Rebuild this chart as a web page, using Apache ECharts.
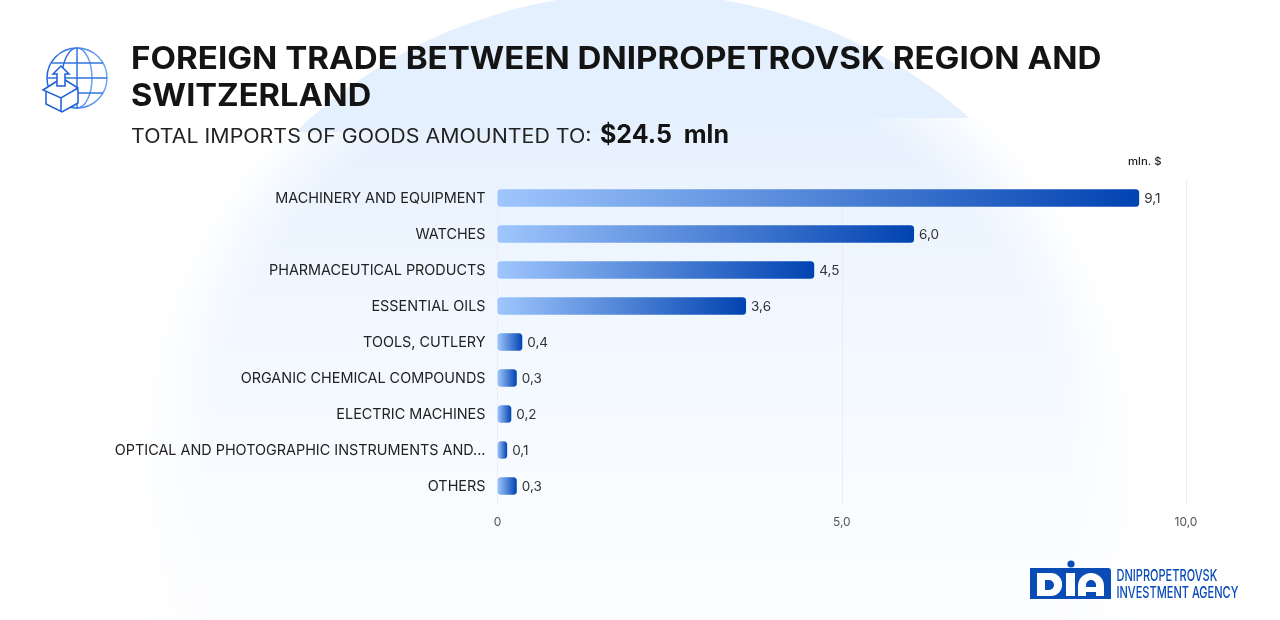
<!DOCTYPE html>
<html><head><meta charset="utf-8">
<style>html,body{margin:0;padding:0;background:#fff}#c{width:1280px;height:620px}</style>
<script src="https://cdn.jsdelivr.net/npm/echarts@6/dist/echarts.min.js"></script>
</head><body><div id="c"></div>
<script>
const categories = ["MACHINERY AND EQUIPMENT","WATCHES","PHARMACEUTICAL PRODUCTS","ESSENTIAL OILS","TOOLS, CUTLERY","ORGANIC CHEMICAL COMPOUNDS","ELECTRIC MACHINES","OPTICAL AND PHOTOGRAPHIC INSTRUMENTS AND...","OTHERS"];
const barLengths = [9.32,6.05,4.6,3.61,0.36,0.28,0.2,0.14,0.28];
const valueLabels = ["9,1","6,0","4,5","3,6","0,4","0,3","0,2","0,1","0,3"];
const tickLabels = {0:"0",5:"5,0",10:"10,0"};
const titleLines = ["FOREIGN TRADE BETWEEN DNIPROPETROVSK REGION AND","SWITZERLAND"];
const subtitle = "TOTAL IMPORTS OF GOODS AMOUNTED TO:";
const totalText = "$24.5  mln";
const unitText = "mln. $";
const logoLines = ["DNIPROPETROVSK","INVESTMENT AGENCY"];
const FONT = "Inter";
const chart = echarts.init(document.getElementById('c'),null,{renderer:'canvas'});
const G = echarts.graphic;
const iconGrad = new G.LinearGradient(0,0,1,0,[{offset:0,color:'#1c5fd6'},{offset:1,color:'#6ea8f6'}]);
const BLUE='#0a4cb6', ICON='#2f74e0';
const ln=(x1,y1,x2,y2,c)=>({type:'line',shape:{x1,y1,x2,y2},style:{stroke:c||ICON,lineWidth:1.5}});
const poly=(points,fill,c)=>({type:'polygon',shape:{points},style:{fill:fill||'none',stroke:c||ICON,lineWidth:1.5}});
const txt = (x,y,text,size,weight,color,extra,sx)=>({type:'text',x,y,scaleX:sx||1,style:Object.assign({text,fontFamily:FONT,fontSize:size,fontWeight:weight,fill:color,verticalAlign:'middle'},extra||{})});
const vFade = ()=>new G.LinearGradient(0,118,0,620,[{offset:0,color:'#e6f1fe'},{offset:0.3,color:'#eff6ff'},{offset:0.65,color:'#f7fbff'},{offset:1,color:'#fcfdff'}],true);
const rFade = ()=>new G.RadialGradient(638,490,508,[{offset:0,color:'rgba(255,255,255,0)'},{offset:0.85,color:'rgba(255,255,255,0)'},{offset:1,color:'rgba(255,255,255,1)'}],true);
const softPart = (x,y,w,z,fill)=>({type:'rect',z,silent:true,shape:{x,y,width:w,height:620-y},style:{fill}});
chart.setOption({
  animation:false,
  backgroundColor:'#fff',
  grid:{left:497.5,right:94,top:180,bottom:116},
  xAxis:{type:'value',min:0,max:10,interval:5,
    axisLine:{show:false},axisTick:{show:false},
    splitLine:{show:true,lineStyle:{color:'#e9edf2',width:1}},
    axisLabel:{margin:12,color:'#555',fontFamily:FONT,fontSize:12,formatter:v=>tickLabels[v]}},
  yAxis:{type:'category',inverse:true,data:categories,
    axisLine:{show:false},axisTick:{show:false},
    axisLabel:{margin:12,interval:0,formatter:v=>'{a|'+v+'}',
      rich:{a:{color:'#222',fontFamily:FONT,fontSize:14.4,padding:[2,0,0,0]}}}},
  series:[{type:'bar',barWidth:17.5,z:3,
    data:barLengths,
    itemStyle:{borderRadius:3.5,color:new G.LinearGradient(0,0,1,0,[{offset:0,color:'#9fc6fd'},{offset:1,color:'#0143b1'}])},
    label:{show:true,position:'right',distance:5,offset:[0,1],color:'#333',fontFamily:FONT,fontSize:13.5,formatter:p=>valueLabels[p.dataIndex]}}],
  graphic:[
    {type:'circle',z:-10,silent:true,shape:{cx:640,cy:490,r:497},style:{fill:'#e4f0fe'}},
    softPart(0,132,640,-9,vFade()),
    softPart(640,118,640,-9,vFade()),
    softPart(0,132,640,-8,rFade()),
    softPart(640,118,640,-8,rFade()),
    {type:'group',z:5,children:[
      {type:'circle',shape:{cx:77,cy:78,r:30},style:{fill:'none',stroke:iconGrad,lineWidth:1.5}},
      {type:'ellipse',shape:{cx:77,cy:78,rx:15,ry:30},style:{fill:'none',stroke:iconGrad,lineWidth:1.5}},
      ln(77,48,77,108),ln(52,63,103,63),ln(47,78,107,78),ln(52,93,103,93),
      poly([[46,92],[46,104],[62,112],[78,103],[78,90],[62,80]],'#fff','#1c5fd6'),
      poly([[43,90],[62,78],[78,88],[61,98]],'#fff','#1c5fd6'),
      ln(61,98,61,112,'#1c5fd6'),
      poly([[61,66],[69,74],[65,74],[65,86],[57,86],[57,74],[53,74]],'#fff','#1c5fd6')
    ]},
    txt(131,60,titleLines[0],31,700,'#141414',null,1.069),
    txt(131,97,titleLines[1],31,700,'#141414',null,1.052),
    txt(131,137.5,subtitle,19.5,400,'#222',null,1.095),
    txt(600,135.5,totalText,25,700,'#141414'),
    txt(1128,162,unitText,11,500,'#222',null,1.03),
    {type:'group',z:5,children:[
      {type:'rect',shape:{x:1030,y:568,width:81,height:31,r:[0,3,0,0]},style:{fill:BLUE}},
      {type:'circle',shape:{cx:1071,cy:564,r:3.6},style:{fill:BLUE}},
      {type:'rect',shape:{x:1037,y:573,width:25,height:23,r:[0,11,11,0]},style:{fill:'#fff'}},
      {type:'rect',shape:{x:1045,y:580,width:9,height:10,r:[0,5,5,0]},style:{fill:BLUE}},
      {type:'rect',shape:{x:1066,y:573,width:9,height:23},style:{fill:'#fff'}},
      {type:'rect',shape:{x:1078,y:573,width:26,height:23,r:[13,13,0,0]},style:{fill:'#fff'}},
      {type:'rect',shape:{x:1086,y:580,width:10,height:7,r:[5,5,0,0]},style:{fill:BLUE}},
      {type:'rect',shape:{x:1086,y:592,width:10,height:4},style:{fill:BLUE}},
      txt(1116.5,576,logoLines[0],16,500,BLUE,null,0.69),
      txt(1116.5,593.5,logoLines[1],16,500,BLUE,null,0.69)
    ]}
  ]
});
</script></body></html>
